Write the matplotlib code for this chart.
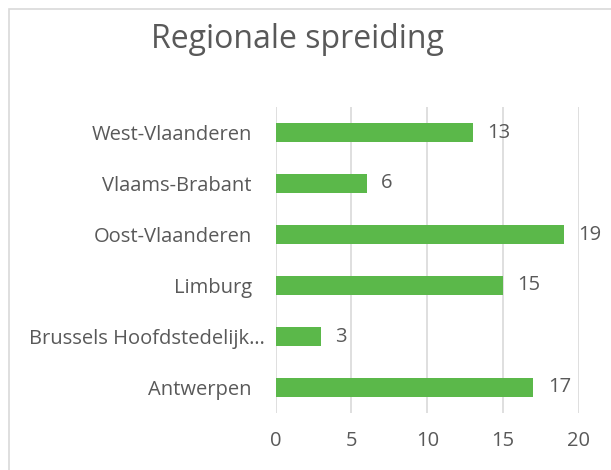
import matplotlib.pyplot as plt
import matplotlib.transforms as mtransforms
from matplotlib.patches import Rectangle

# chart data (bottom to top as drawn)
regions = ['Antwerpen', 'Brussels Hoofdstedelijk…', 'Limburg',
           'Oost-Vlaanderen', 'Vlaams-Brabant', 'West-Vlaanderen']
counts = [17, 3, 15, 19, 6, 13]
xticks = [0, 5, 10, 15, 20]

plt.rcParams['font.family'] = ['Open Sans', 'DejaVu Sans']
txt = '#595959'
green = '#5BB84A'

W, H = 611, 470
fig = plt.figure(figsize=(W / 100, H / 100), dpi=100)

# outer frame of the chart area (only top and left visible)
fig.patches.append(Rectangle((9 / W, -0.1), 1.2, 1 - 9 / H + 0.1,
                             transform=fig.transFigure, fill=False,
                             edgecolor='#D9D9D9', linewidth=1.2))

ax = fig.add_axes([275.5 / W, 1 - 413 / H, (579 - 275.5) / W, (413 - 107) / H])
ypos = list(range(len(regions)))
bars = ax.barh(ypos, counts, height=0.39, color=green)
for y, v in zip(ypos, counts):
    ax.text(v + 0.95, y, str(v), va='center', ha='left', fontsize=14.5, color=txt)

ax.set_xlim(0, 20)
ax.set_ylim(-0.5, len(regions) - 0.5)
ax.set_xticks(xticks)
ax.set_yticks(ypos)
ax.set_yticklabels(regions)
ax.tick_params(axis='both', length=0, labelsize=14.5, labelcolor=txt)
ax.tick_params(axis='x', pad=13)
ax.tick_params(axis='y', pad=17)
ax.grid(axis='x', color='#D9D9D9', linewidth=1.2)
ax.set_axisbelow(True)
for s in ax.spines.values():
    s.set_visible(False)

# the truncated label sits a bit further right, like in Excel
lbl = ax.get_yticklabels()[1]
lbl.set_transform(lbl.get_transform() +
                  mtransforms.ScaledTranslation(13 / 100, 0, fig.dpi_scale_trans))

fig.text(297 / W, 1 - 40 / H, 'Regionale spreiding', ha='center', va='center',
         fontsize=23, color=txt)

fig.savefig('out.png', dpi=100)
